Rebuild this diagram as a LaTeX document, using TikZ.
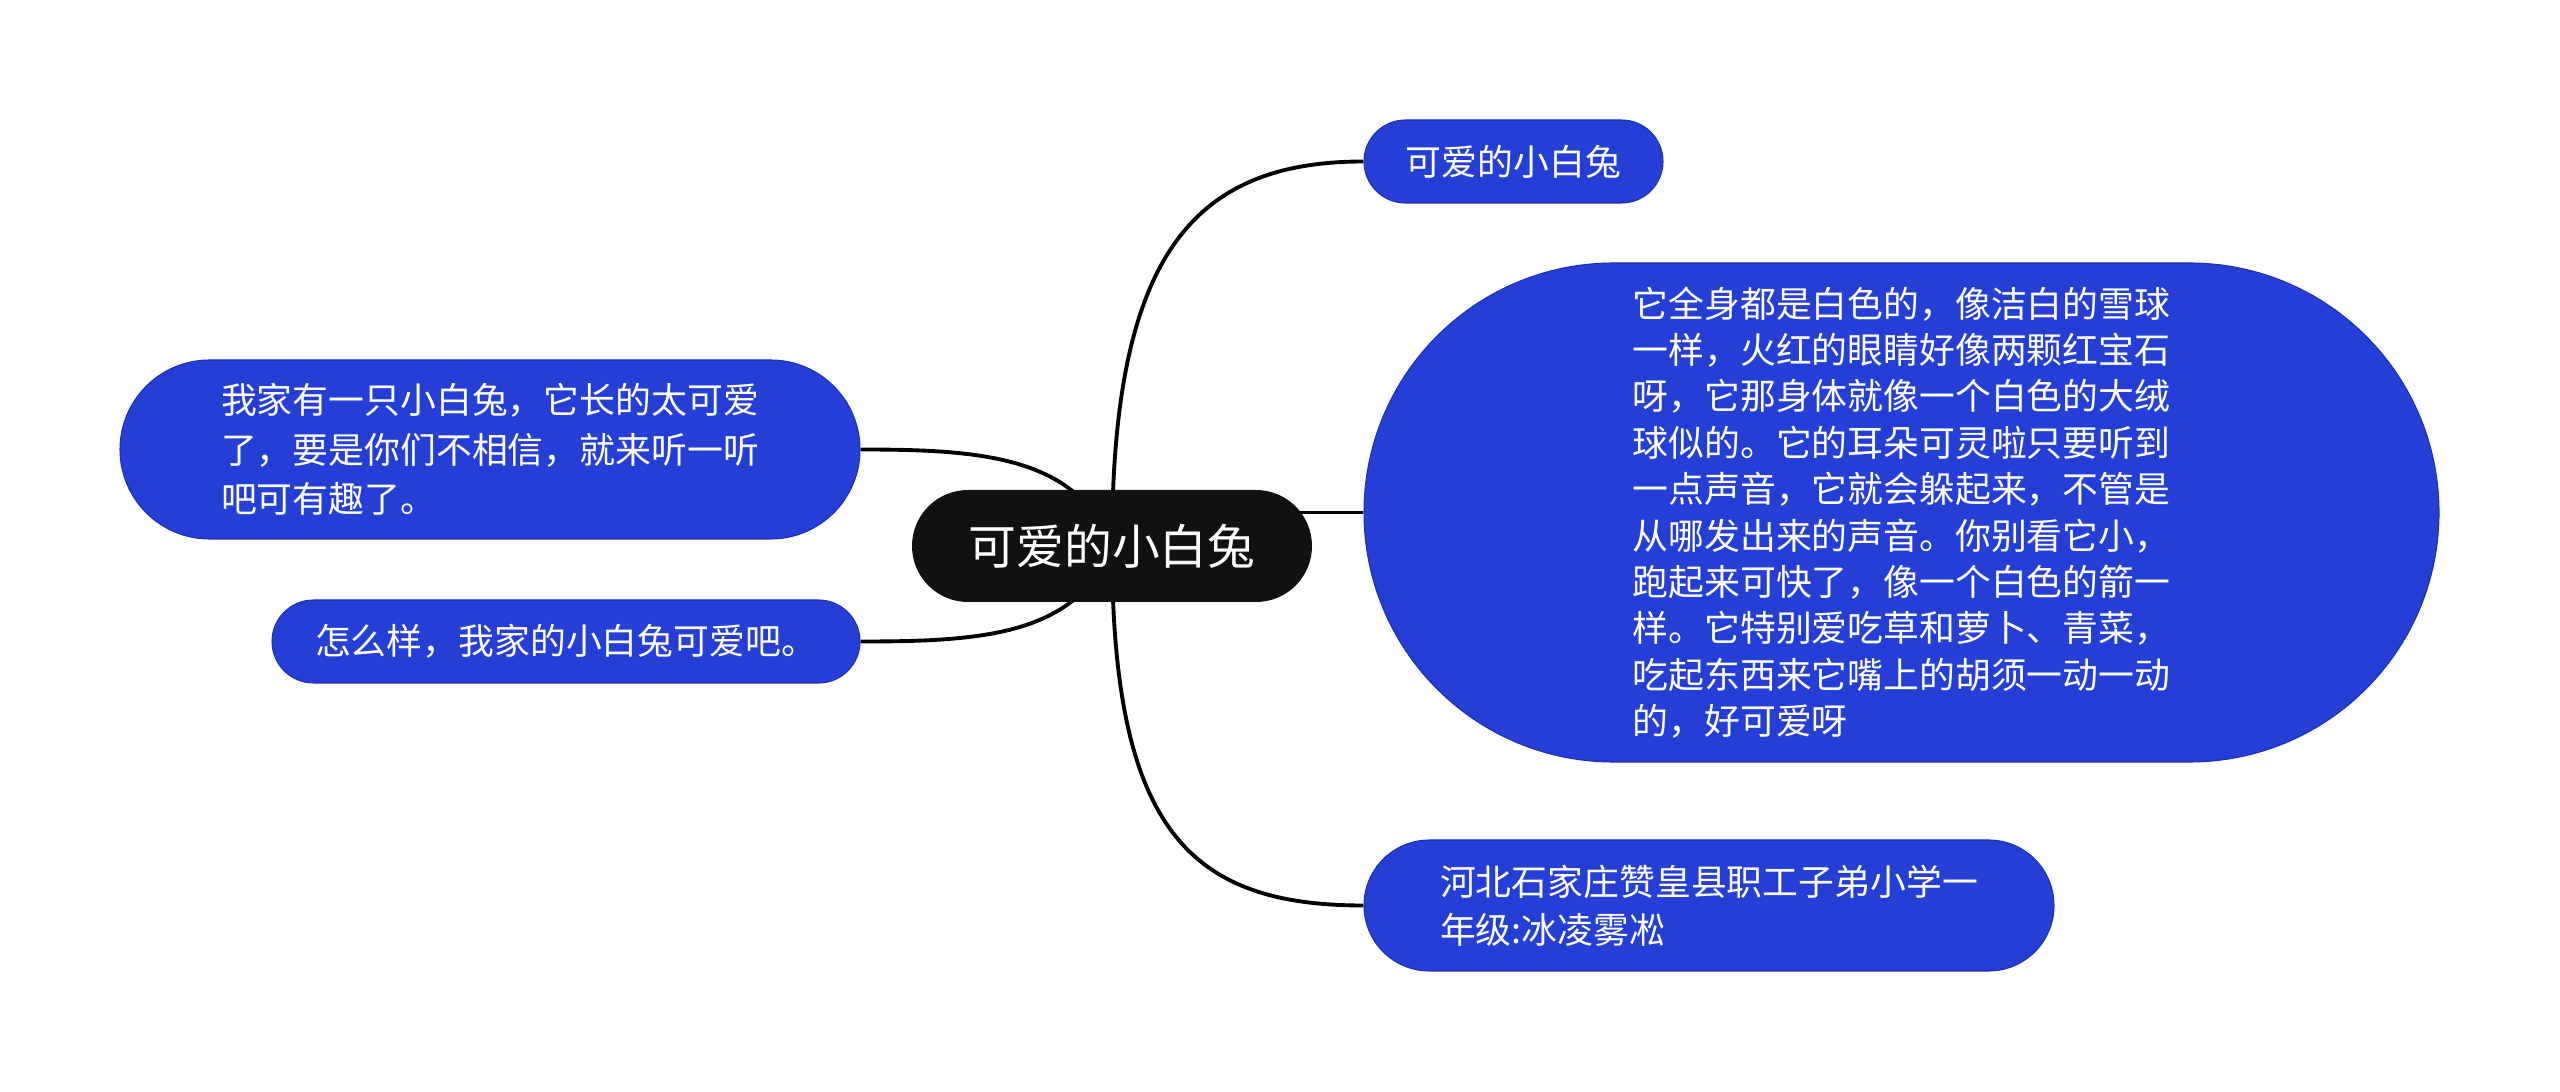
\documentclass[tikz,border=0pt]{standalone}
\usepackage{fontspec}
\newfontfamily\cjk{Noto Sans CJK SC}
\usetikzlibrary{shapes.misc,backgrounds}
\definecolor{nodeblue}{RGB}{36,62,214}
\definecolor{nodeedge}{RGB}{28,48,180}
\definecolor{topicblack}{RGB}{17,17,17}

\begin{document}
\begin{tikzpicture}[
  topic/.style={
    rounded rectangle, fill=topicblack, text=white, inner sep=0pt,
    font=\cjk\fontsize{13.6pt}{16pt}\selectfont
  },
  sub/.style={
    rounded rectangle, draw=nodeedge, line width=0.3pt, fill=nodeblue,
    text=white, inner sep=0pt, align=left
  },
  link/.style={line width=1.1pt, black},
]
\useasboundingbox (0,0) rectangle (25.6,-10.92);

\node[topic, minimum width=4cm, minimum height=1.12cm] (rabbit) at (11.12,-5.46) {可爱的小白兔};

\node[sub, minimum width=2.99cm, minimum height=0.83cm,
  font=\cjk\fontsize{10.2pt}{13pt}\selectfont] (title) at (15.135,-1.615) {可爱的小白兔};
\node[sub, minimum width=10.75cm, minimum height=4.99cm,
  font=\cjk\fontsize{10.2pt}{13.2pt}\selectfont] (looks) at (19.015,-5.125)
  {它全身都是白色的，像洁白的雪球\\一样，火红的眼睛好像两颗红宝石\\呀，它那身体就像一个白色的大绒\\球似的。它的耳朵可灵啦只要听到\\一点声音，它就会躲起来，不管是\\从哪发出来的声音。你别看它小，\\跑起来可快了，像一个白色的箭一\\样。它特别爱吃草和萝卜、青菜，\\吃起东西来它嘴上的胡须一动一动\\的，好可爱呀};
\node[sub, minimum width=6.9cm, minimum height=1.31cm,
  font=\cjk\fontsize{10.2pt}{13.7pt}\selectfont] (author) at (17.09,-9.055)
  {河北石家庄赞皇县职工子弟小学一\\年级:冰凌雾凇};

\node[sub, minimum width=7.4cm, minimum height=1.79cm,
  font=\cjk\fontsize{10.2pt}{14.1pt}\selectfont] (intro) at (4.9,-4.495)
  {我家有一只小白兔，它长的太可爱\\了，要是你们不相信，就来听一听\\吧可有趣了。};
\node[sub, minimum width=5.88cm, minimum height=0.83cm,
  font=\cjk\fontsize{10.2pt}{13pt}\selectfont] (ending) at (5.66,-6.415)
  {怎么样，我家的小白兔可爱吧。};

\begin{scope}[on background layer]
\draw[link] (rabbit.center) .. controls +(0,2.86) and +(-1.74,0) .. (title.west);
\draw[link] (rabbit.center |- looks.west) -- (looks.west);
\draw[link] (rabbit.center) .. controls +(0,-2.84) and +(-1.74,0) .. (author.west);
\draw[link] (rabbit.center) .. controls +(-0.35,0.9) and +(1.2,0) .. (intro.east);
\draw[link] (rabbit.center) .. controls +(-0.35,-0.9) and +(1.2,0) .. (ending.east);
\end{scope}

\end{tikzpicture}
\end{document}
